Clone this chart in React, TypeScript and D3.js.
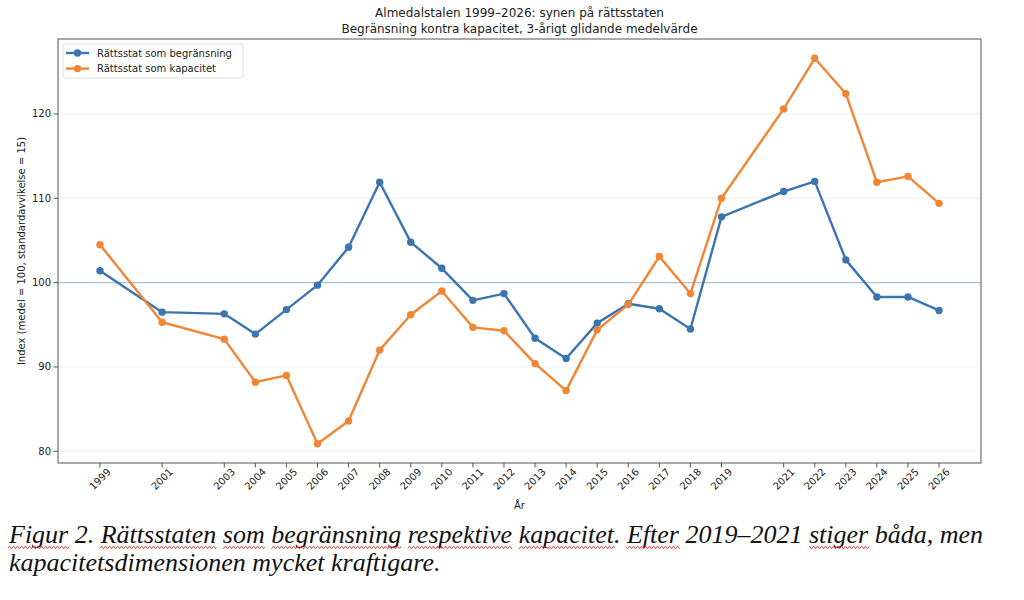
import * as d3 from "d3";
import { useLayoutEffect, useRef, useState } from "react";

const years = [1999, 2001, 2003, 2004, 2005, 2006, 2007, 2008, 2009, 2010, 2011, 2012, 2013, 2014, 2015, 2016, 2017, 2018, 2019, 2021, 2022, 2023, 2024, 2025, 2026];
const begransning = [101.4, 96.5, 96.3, 93.9, 96.8, 99.7, 104.2, 111.9, 104.8, 101.7, 97.9, 98.7, 93.4, 91.0, 95.2, 97.5, 96.9, 94.5, 107.8, 110.8, 112.0, 102.7, 98.3, 98.3, 96.7];
const kapacitet = [104.5, 95.3, 93.3, 88.2, 89.0, 80.9, 83.6, 92.0, 96.2, 99.0, 94.7, 94.3, 90.4, 87.2, 94.4, 97.4, 103.1, 98.7, 110.0, 120.6, 126.6, 122.4, 111.9, 112.6, 109.4];
const yTicks = [80, 90, 100, 110, 120];

const series = [
  { name: "Rättsstat som begränsning", values: begransning, color: "#3b75af" },
  { name: "Rättsstat som kapacitet", values: kapacitet, color: "#ef8636" },
];

// caption words, true = spell-check underline
const captionLine1: [string, boolean][] = [
  ["Figur", true], [" 2. ", false], ["Rättsstaten", true], [" ", false], ["som", true], [" ", false],
  ["begränsning", true], [" ", false], ["respektive", true], [" ", false], ["kapacitet", true], [". ", false],
  ["Efter", true], [" 2019–2021 ", false], ["stiger", true], [" båda, men", false],
];
const captionLine2 = "kapacitetsdimensionen mycket kraftigare.";

const W = 1024;
const H = 600;
const m = { left: 58, right: 981, top: 39, bottom: 463 };
const font = "DejaVu Sans, sans-serif";
const serif = "'Liberation Serif', 'Times New Roman', serif";

export default function App() {
  const captionRef = useRef<SVGTextElement>(null);
  const [squiggles, setSquiggles] = useState<{ x: number; w: number }[]>([]);

  useLayoutEffect(() => {
    if (!captionRef.current) return;
    const spans = captionRef.current.querySelectorAll<SVGTSpanElement>("tspan[data-u='1']");
    setSquiggles(
      Array.from(spans).map((s) => {
        const b = s.getBBox();
        return { x: b.x, w: b.width };
      })
    );
  }, []);

  const allVals = [...begransning, ...kapacitet];
  const yMin = d3.min(allVals)!;
  const yMax = d3.max(allVals)!;
  const yPad = (yMax - yMin) * 0.05;
  const xPad = (d3.max(years)! - d3.min(years)!) * 0.05;

  const x = d3.scaleLinear().domain([d3.min(years)! - xPad, d3.max(years)! + xPad]).range([m.left, m.right]);
  const y = d3.scaleLinear().domain([yMin - yPad, yMax + yPad]).range([m.bottom, m.top]);

  const lineGen = d3
    .line<number>()
    .x((_, i) => x(years[i]))
    .y((d) => y(d));

  const cx = (m.left + m.right) / 2;

  return (
    <svg width={W} height={H} style={{ position: "absolute", left: 0, top: 0, background: "#fff" }}>
      <defs>
        <pattern id="wave" width={4} height={3} patternUnits="userSpaceOnUse" x={0} y={546}>
          <path d="M0,2.5 L1,0.5 L2,0.5 L3,2.5 L4,2.5" fill="none" stroke="#e0463c" strokeWidth={0.9} />
        </pattern>
      </defs>

      <text x={cx} y={17} textAnchor="middle" fontFamily={font} fontSize={12} fill="#222">
        Almedalstalen 1999–2026: synen på rättsstaten
      </text>
      <text x={cx} y={33} textAnchor="middle" fontFamily={font} fontSize={12} fill="#222">
        Begränsning kontra kapacitet, 3-årigt glidande medelvärde
      </text>

      {yTicks.map((t) => (
        <line key={"g" + t} x1={m.left} x2={m.right} y1={y(t)} y2={y(t)} stroke="#ebebeb" strokeWidth={0.8} />
      ))}
      <line x1={m.left} x2={m.right} y1={y(100)} y2={y(100)} stroke="#a9c3dc" strokeWidth={1.2} />

      {series.map((s) => (
        <g key={s.name}>
          <path d={lineGen(s.values)!} fill="none" stroke={s.color} strokeWidth={2.4} strokeLinejoin="round" />
          {s.values.map((v, i) => (
            <circle key={i} cx={x(years[i])} cy={y(v)} r={3.7} fill={s.color} />
          ))}
        </g>
      ))}

      <rect x={m.left} y={m.top} width={m.right - m.left} height={m.bottom - m.top} fill="none" stroke="#555" strokeWidth={1} />

      {yTicks.map((t) => (
        <g key={"y" + t} transform={`translate(0,${y(t)})`}>
          <line x1={m.left - 4.5} x2={m.left} stroke="#555" />
          <text x={m.left - 7} dy="0.35em" textAnchor="end" fontFamily={font} fontSize={10} fill="#222">
            {t}
          </text>
        </g>
      ))}
      {years.map((yr) => (
        <g key={"x" + yr}>
          <line x1={x(yr)} x2={x(yr)} y1={m.bottom} y2={m.bottom + 4.5} stroke="#555" />
          <text
            transform={`translate(${x(yr)},${m.bottom + 16}) rotate(-45)`}
            textAnchor="middle"
            dominantBaseline="central"
            fontFamily={font}
            fontSize={10}
            fill="#222"
          >
            {yr}
          </text>
        </g>
      ))}

      <text x={cx} y={509} textAnchor="middle" fontFamily={font} fontSize={10} fill="#222">
        År
      </text>
      <text
        transform={`translate(21,${(m.top + m.bottom) / 2}) rotate(-90)`}
        textAnchor="middle"
        dominantBaseline="central"
        fontFamily={font}
        fontSize={10}
        fill="#222"
      >
        Index (medel = 100, standardavvikelse = 15)
      </text>

      <g>
        <rect x={63} y={44} width={180} height={34} rx={2} fill="#fff" fillOpacity={0.85} stroke="#d6d6d6" strokeWidth={0.8} />
        {series.map((s, i) => (
          <g key={"l" + s.name} transform={`translate(0,${53 + i * 15.6})`}>
            <line x1={66} x2={89} stroke={s.color} strokeWidth={2.4} />
            <circle cx={77.5} cy={0} r={3.7} fill={s.color} />
            <text x={97} dy="0.35em" fontFamily={font} fontSize={10} fill="#222">
              {s.name}
            </text>
          </g>
        ))}
      </g>

      <text ref={captionRef} x={9} y={543} fontFamily={serif} fontStyle="italic" fontSize={26} fill="#111" style={{ whiteSpace: "pre" }}>
        {captionLine1.map(([w, u], i) => (
          <tspan key={i} data-u={u ? "1" : "0"}>
            {w}
          </tspan>
        ))}
      </text>
      <text x={9} y={571} fontFamily={serif} fontStyle="italic" fontSize={26} fill="#111">
        {captionLine2}
      </text>
      {squiggles.map((s, i) => (
        <rect key={"sq" + i} x={s.x} y={546} width={s.w} height={3} fill="url(#wave)" />
      ))}
    </svg>
  );
}
